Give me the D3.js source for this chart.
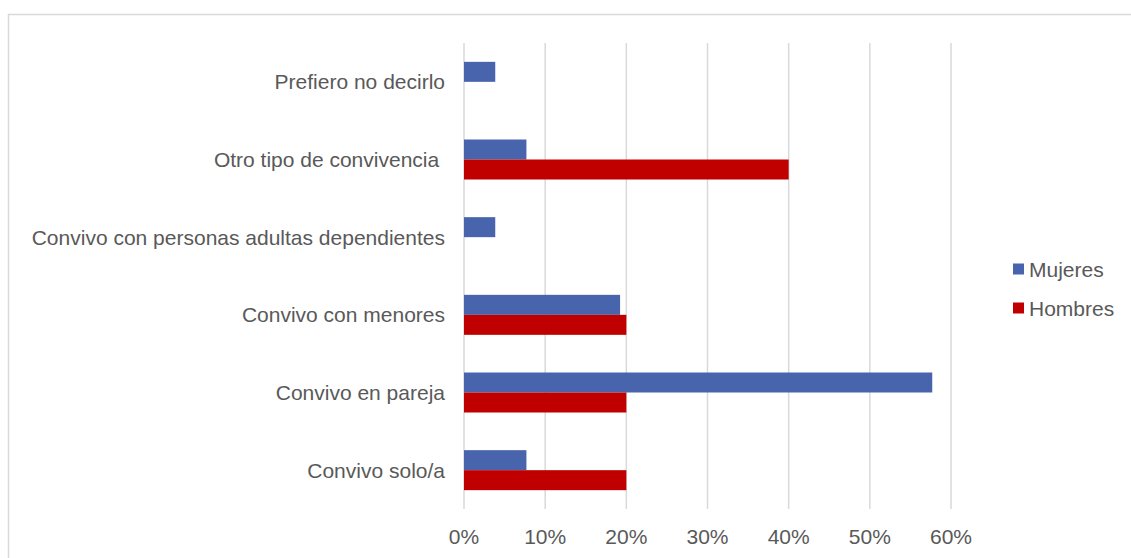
<!DOCTYPE html>
<html>
<head>
<meta charset="utf-8">
<script src="https://cdn.jsdelivr.net/npm/d3@7"></script>
<style>
  html, body { margin: 0; padding: 0; background: #fff; }
  svg { display: block; font-family: "Liberation Sans", Arial, sans-serif; }
</style>
</head>
<body>
<svg id="chart" width="1131" height="558"></svg>
<script>
// Tipo de convivencia por sexo (porcentaje)
const categories = [
  "Prefiero no decirlo",
  "Otro tipo de convivencia ",
  "Convivo con personas adultas dependientes",
  "Convivo con menores",
  "Convivo en pareja",
  "Convivo solo/a"
];
const seriesNames = ["Mujeres", "Hombres"];
const mujeres = [3.85, 7.69, 3.85, 19.23, 57.69, 7.69];
const hombres = [0, 40, 0, 20, 20, 20];
const tickValues = [0, 10, 20, 30, 40, 50, 60];
const colors = ["#4864ad", "#c00000"];

const FONT = 21;
const svg = d3.select("#chart");

// chart frame
svg.append("rect")
  .attr("x", 8.5).attr("y", 14.5)
  .attr("width", 1140).attr("height", 560)
  .attr("fill", "none").attr("stroke", "#d9d9d9").attr("stroke-width", 1.5);

const plot = { left: 464, right: 951, top: 43, bottom: 509 };

const x = d3.scaleLinear().domain([0, 60]).range([plot.left, plot.right]);
const y = d3.scaleBand().domain(categories).range([plot.top, plot.bottom]).paddingInner(0.485).paddingOuter(0.2425);
const ySub = d3.scaleBand().domain(seriesNames).range([0, y.bandwidth()]);

// vertical gridlines
svg.append("g")
  .selectAll("line")
  .data(tickValues)
  .join("line")
  .attr("x1", d => x(d)).attr("x2", d => x(d))
  .attr("y1", plot.top).attr("y2", plot.bottom)
  .attr("stroke", "#d9d9d9").attr("stroke-width", 1.5);

// x axis tick labels
svg.append("g")
  .selectAll("text")
  .data(tickValues)
  .join("text")
  .attr("x", d => x(d))
  .attr("y", 536)
  .attr("text-anchor", "middle")
  .attr("dominant-baseline", "central")
  .attr("font-size", FONT)
  .attr("fill", "#595959")
  .text(d => d + "%");

// category labels
svg.append("g")
  .selectAll("text")
  .data(categories)
  .join("text")
  .attr("x", 445)
  .attr("y", d => y(d) + y.bandwidth() / 2)
  .attr("text-anchor", "end")
  .attr("dominant-baseline", "central")
  .attr("font-size", FONT)
  .attr("fill", "#595959")
  .style("white-space", "pre")
  .text(d => d);

// bars
const series = [mujeres, hombres];
series.forEach((vals, si) => {
  svg.append("g")
    .selectAll("rect")
    .data(categories.map((c, i) => ({ c, v: vals[i] })).filter(d => d.v > 0))
    .join("rect")
    .attr("x", x(0))
    .attr("y", d => y(d.c) + ySub(seriesNames[si]))
    .attr("width", d => x(d.v) - x(0))
    .attr("height", ySub.bandwidth())
    .attr("fill", colors[si]);
});

// legend
const legend = svg.append("g");
seriesNames.forEach((name, i) => {
  const cy = 269 + i * 39;
  legend.append("rect")
    .attr("x", 1013).attr("y", cy - 5.5)
    .attr("width", 11).attr("height", 11)
    .attr("fill", colors[i]);
  legend.append("text")
    .attr("x", 1029).attr("y", cy)
    .attr("dominant-baseline", "central")
    .attr("font-size", FONT)
    .attr("fill", "#595959")
    .text(name);
});
</script>
</body>
</html>
